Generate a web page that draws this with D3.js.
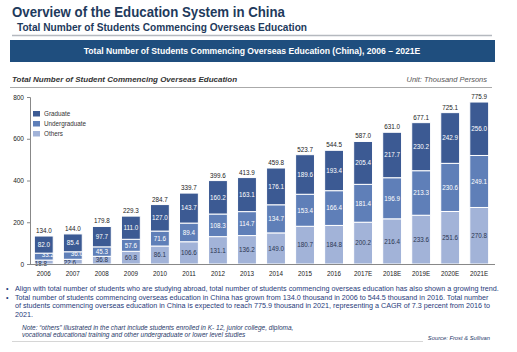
<!DOCTYPE html>
<html>
<head>
<meta charset="utf-8">
<script src="https://cdn.jsdelivr.net/npm/d3@7"></script>
<style>
  body { margin: 0; background: #fff; }
  svg { display: block; font-family: "Liberation Sans", Arial, sans-serif; }
</style>
</head>
<body>
<svg id="chart" width="517" height="352"></svg>
<script>
var years = ["2006", "2007", "2008", "2009", "2010", "2011", "2012", "2013", "2014", "2015", "2016",
             "2017E", "2018E", "2019E", "2020E", "2021E"];
var others = [18.8, 22.6, 36.8, 60.8, 86.1, 106.6, 131.1, 136.2, 149.0, 180.7, 184.8, 200.2, 216.4, 233.6, 251.6, 270.8];
var undergraduate = [33.2, 36.0, 45.3, 57.6, 71.6, 89.4, 108.3, 114.7, 134.7, 153.4, 166.4, 181.4, 196.9, 213.3, 230.6, 249.1];
var graduate = [82.0, 85.4, 97.7, 111.0, 127.0, 143.7, 160.2, 163.1, 176.1, 189.6, 193.4, 205.4, 217.7, 230.2, 242.9, 256.0];
var totals = [134.0, 144.0, 179.8, 229.3, 284.7, 339.7, 399.6, 413.9, 459.8, 523.7, 544.5, 587.0, 631.0, 677.1, 725.1, 775.9];
var yTicks = [0, 200, 400, 600, 800];

var seriesNames = ["Others", "Undergraduate", "Graduate"];
var colors = {"Graduate": "#3c5a93", "Undergraduate": "#5f7fb8", "Others": "#a2b3d8"};

var rows = years.map(function(y, i) {
    return {year: y, Others: others[i], Undergraduate: undergraduate[i], Graduate: graduate[i], total: totals[i]};
});

var svg = d3.select("#chart");

// header
svg.append("text").attr("x", 12).attr("y", 17).attr("fill", "#1e3a5c")
    .attr("textLength", 273).attr("lengthAdjust", "spacingAndGlyphs")
    .style("font-size", "15px").style("font-weight", "bold")
    .text("Overview of the Education System in China");
svg.append("text").attr("x", 17).attr("y", 31).attr("fill", "#1e3a5c")
    .attr("textLength", 290).attr("lengthAdjust", "spacingAndGlyphs")
    .style("font-size", "10.5px").style("font-weight", "bold")
    .text("Total Number of Students Commencing Overseas Education");
svg.append("line").attr("x1", 12).attr("x2", 492).attr("y1", 35.5).attr("y2", 35.5)
    .style("stroke", "#b5b9bf").style("stroke-width", "1.5px");

svg.append("rect").attr("x", 10).attr("y", 40).attr("width", 485).attr("height", 22)
    .style("fill", "#1f4e7e");
svg.append("text").attr("x", 252).attr("y", 54).attr("text-anchor", "middle").attr("fill", "#fff")
    .style("font-size", "8.6px").style("font-weight", "bold")
    .text("Total Number of Students Commencing Overseas Education (China), 2006 \u2013 2021E");

svg.append("text").attr("x", 12).attr("y", 82).attr("fill", "#333")
    .style("font-size", "8px").style("font-weight", "bold").style("font-style", "italic")
    .text("Total Number of Student Commencing Overseas Education");
svg.append("text").attr("x", 487).attr("y", 82).attr("text-anchor", "end").attr("fill", "#555")
    .style("font-size", "7.5px").style("font-style", "italic")
    .text("Unit: Thousand Persons");
svg.append("line").attr("x1", 10).attr("x2", 492).attr("y1", 87.5).attr("y2", 87.5)
    .style("stroke", "#aaa").style("stroke-width", "1px");

// scales
var x = d3.scaleBand().domain(years).range([30, 493]).paddingInner(0.35).paddingOuter(0.15);
var y = d3.scaleLinear().domain([0, 800]).range([264, 97]);

var stack = d3.stack().keys(seriesNames);
var layers = stack(rows);

var g = svg.append("g");

// axes
var yAxis = g.append("g").attr("transform", "translate(30,0)")
    .call(d3.axisLeft(y).tickValues(yTicks).tickSize(3).tickFormat(d3.format("d")));
yAxis.select(".domain").style("stroke", "#888");
yAxis.selectAll(".tick line").style("stroke", "#888");
yAxis.selectAll("text").style("font-size", "6.5px").attr("fill", "#222");

var layerG = g.selectAll("g.layer")
    .data(layers)
    .join("g")
    .classed("layer", true)
    .style("fill", function(d) { return colors[d.key]; });

layerG.selectAll("rect")
    .data(function(d) { return d; })
    .join("rect")
    .attr("x", function(d) { return x(d.data.year); })
    .attr("y", function(d) { return y(d[1]); })
    .attr("width", x.bandwidth())
    .attr("height", function(d) { return y(d[0]) - y(d[1]); })
    .style("stroke", "#fff")
    .style("stroke-width", "1px");

// small "Others" segments: push label left/down and the one above right/up, as in the source
function small(d) { return d.data.Others < 30; }

layerG.selectAll("text")
    .data(function(d) { return d.map(function(p) { p.key = d.key; return p; }); })
    .join("text")
    .attr("x", function(d) {
        var cx = x(d.data.year) + x.bandwidth() / 2;
        if (small(d) && d.key == "Others") return cx - 3;
        if (small(d) && d.key == "Undergraduate") return cx + 4;
        return cx;
    })
    .attr("y", function(d) {
        var cy = (y(d[0]) + y(d[1])) / 2 + 2.3;
        if (small(d) && d.key == "Others") return cy + 1.5;
        if (small(d) && d.key == "Undergraduate") return cy - 1.5;
        return cy;
    })
    .attr("text-anchor", "middle")
    .style("font-size", "6.3px")
    .style("fill", function(d) { return d.key == "Others" ? "#2a3550" : "#fff"; })
    .text(function(d) { return d3.format(".1f")(d.data[d.key]); });

g.selectAll("text.total")
    .data(rows)
    .join("text")
    .classed("total", true)
    .attr("x", function(d) { return x(d.year) + x.bandwidth() / 2; })
    .attr("y", function(d) { return y(d.total) - 3; })
    .attr("text-anchor", "middle")
    .style("font-size", "6.3px")
    .style("fill", "#222")
    .text(function(d) { return d3.format(".1f")(d.total); });

var xAxis = g.append("g").attr("transform", "translate(0,264)")
    .call(d3.axisBottom(x).tickSize(0).tickPadding(8));
xAxis.select(".domain").attr("d", "M30,0.5H495").style("stroke", "#888");
xAxis.selectAll("text").style("font-size", "6.3px").attr("fill", "#222");

// legend
var legend = g.selectAll("g.legend")
    .data(seriesNames.slice().reverse())
    .join("g")
    .classed("legend", true)
    .attr("transform", function(d, i) { return "translate(33," + (111 + i * 10) + ")"; });
legend.append("rect").attr("width", 7).attr("height", 5.5)
    .style("fill", function(d) { return colors[d]; });
legend.append("text").attr("x", 11).attr("y", 5).style("font-size", "6.3px").attr("fill", "#333")
    .text(function(d) { return d; });

// bullets
var bullets = [
    ["Align with total number of students who are studying abroad, total number of students commencing overseas education has also shown a growing trend."],
    ["Total number of students commencing overseas education in China has grown from 134.0 thousand in 2006 to 544.5 thousand in 2016. Total number",
     "of students commencing overseas education in China is expected to reach 775.9 thousand in 2021, representing a CAGR of 7.3 percent from 2016 to",
     "2021."]
];
var by = 291;
bullets.forEach(function(lines) {
    svg.append("text").attr("x", 6).attr("y", by).attr("fill", "#1f3a7a").style("font-size", "7.2px").text("\u2022");
    lines.forEach(function(l) {
        svg.append("text").attr("x", 15).attr("y", by).attr("fill", "#1f3a7a")
            .style("font-size", "7.2px").text(l);
        by += 8.7;
    });
});

svg.append("text").attr("x", 22).attr("y", 330).attr("fill", "#2a3a6a")
    .style("font-size", "6.5px").style("font-style", "italic")
    .text("Note: \u201cothers\u201d illustrated in the chart include students enrolled in K- 12, junior college, diploma,");
svg.append("text").attr("x", 22).attr("y", 337).attr("fill", "#2a3a6a")
    .style("font-size", "6.5px").style("font-style", "italic")
    .text("vocational educational training and other undergraduate or lower level studies");
svg.append("text").attr("x", 490).attr("y", 340).attr("text-anchor", "end").attr("fill", "#2a3a6a")
    .style("font-size", "5.8px").style("font-style", "italic")
    .text("Source: Frost & Sullivan");
svg.append("line").attr("x1", 12).attr("x2", 423).attr("y1", 341.5).attr("y2", 341.5)
    .style("stroke", "#ccc").style("stroke-width", "0.8px");
</script>
</body>
</html>
